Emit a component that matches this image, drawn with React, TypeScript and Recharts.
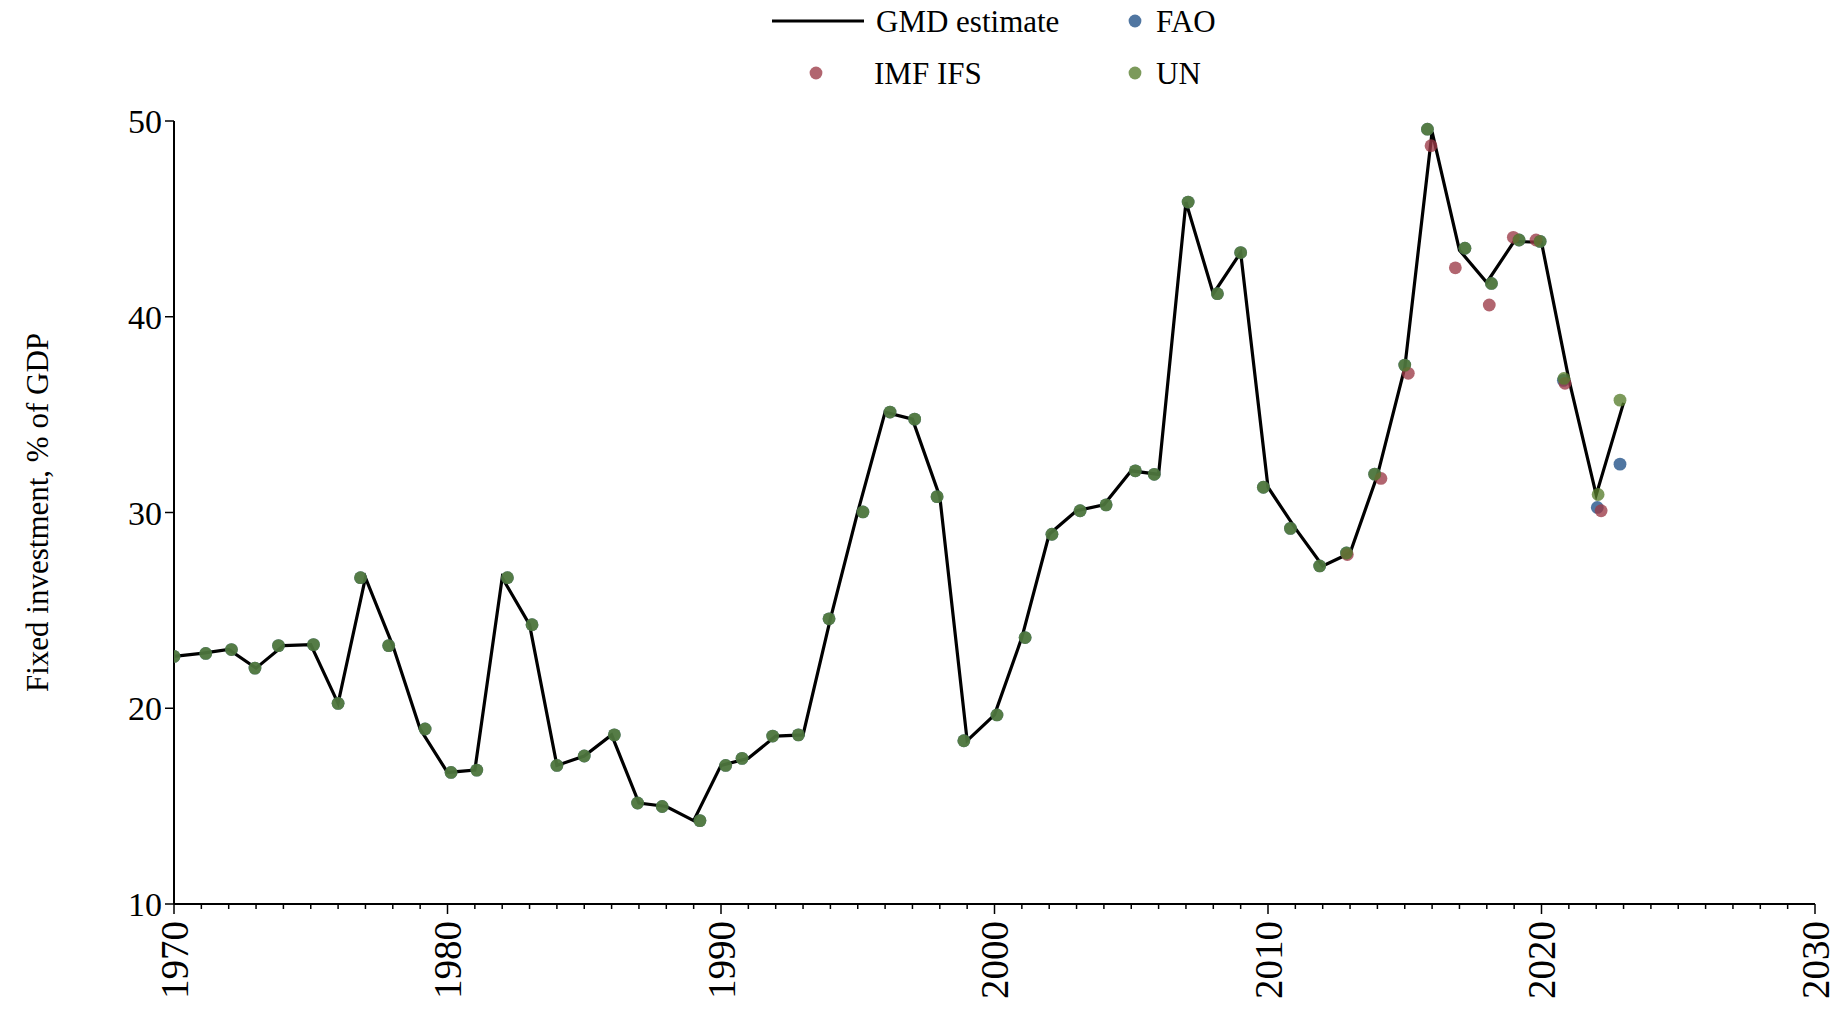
import React from 'react';
import { ComposedChart, Line, Scatter, XAxis, YAxis } from 'recharts';

const FONT = '"Liberation Serif", "Times New Roman", serif';

const years = [
  1970, 1971, 1972, 1973, 1974, 1975, 1976, 1977, 1978, 1979,
  1980, 1981, 1982, 1983, 1984, 1985, 1986, 1987, 1988, 1989,
  1990, 1991, 1992, 1993, 1994, 1995, 1996, 1997, 1998, 1999,
  2000, 2001, 2002, 2003, 2004, 2005, 2006, 2007, 2008, 2009,
  2010, 2011, 2012, 2013, 2014, 2015, 2016, 2017, 2018, 2019,
  2020, 2021, 2022, 2023,
];

const gmdEstimate = [
  22.65, 22.8, 23.0, 22.05, 23.2, 23.25, 20.25, 26.67, 23.2, 18.94,
  16.72, 16.84, 26.67, 24.27, 17.08, 17.56, 18.64, 15.16, 14.98, 14.26,
  17.08, 17.44, 18.58, 18.64, 24.57, 30.03, 35.13, 34.77, 30.81, 18.34,
  19.66, 23.61, 28.89, 30.09, 30.39, 32.13, 31.95, 45.86, 41.18, 43.28,
  31.29, 29.19, 27.27, 27.93, 31.9, 37.4, 49.45, 43.4, 41.75, 43.85,
  43.8, 36.8, 30.9, 35.6,
];

// observed (slightly jittered) horizontal positions of the UN / FAO dots
const unYears = [
  1970.0, 1971.16, 1972.1, 1972.96, 1973.82, 1975.1, 1976.0, 1976.82, 1977.85, 1979.18,
  1980.13, 1981.07, 1982.19, 1983.09, 1984.0, 1985.0, 1986.1, 1986.95, 1987.85, 1989.23,
  1990.17, 1990.77, 1991.89, 1992.83, 1993.95, 1995.19, 1996.18, 1997.08, 1997.9, 1998.88,
  2000.09, 2001.12, 2002.1, 2003.13, 2004.08, 2005.15, 2005.84, 2007.08, 2008.15, 2009.0,
  2009.83, 2010.82, 2011.89, 2012.87, 2013.9, 2015.0, 2015.83, 2017.2, 2018.17, 2019.18,
  2019.95, 2020.82, 2022.07, 2022.87,
];
const unValues = [
  22.65, 22.8, 23.0, 22.05, 23.2, 23.25, 20.25, 26.67, 23.2, 18.94,
  16.72, 16.84, 26.67, 24.27, 17.08, 17.56, 18.64, 15.16, 14.98, 14.26,
  17.08, 17.44, 18.58, 18.64, 24.57, 30.03, 35.13, 34.77, 30.81, 18.34,
  19.66, 23.61, 28.89, 30.09, 30.39, 32.13, 31.95, 45.86, 41.18, 43.28,
  31.29, 29.19, 27.27, 27.93, 31.96, 37.53, 49.58, 43.5, 41.7, 43.92,
  43.85, 36.85, 30.92, 35.74,
];

const faoYears = [
  1970.0, 1971.16, 1972.1, 1972.96, 1973.82, 1975.1, 1976.0, 1976.82, 1977.85, 1979.18,
  1980.13, 1981.07, 1982.19, 1983.09, 1984.0, 1985.0, 1986.1, 1986.95, 1987.85, 1989.23,
  1990.17, 1990.77, 1991.89, 1992.83, 1993.95, 1995.19, 1996.18, 1997.08, 1997.9, 1998.88,
  2000.09, 2001.12, 2002.1, 2003.13, 2004.08, 2005.15, 2005.84, 2007.08, 2008.15, 2009.0,
  2009.83, 2010.82, 2011.89, 2012.87, 2013.9, 2015.0, 2015.83, 2017.2, 2018.17, 2019.18,
  2019.95, 2020.8, 2022.04, 2022.87,
];
const faoValues = [
  22.65, 22.8, 23.0, 22.05, 23.2, 23.25, 20.25, 26.67, 23.2, 18.94,
  16.72, 16.84, 26.67, 24.27, 17.08, 17.56, 18.64, 15.16, 14.98, 14.26,
  17.08, 17.44, 18.58, 18.64, 24.57, 30.03, 35.13, 34.77, 30.81, 18.34,
  19.66, 23.61, 28.89, 30.09, 30.39, 32.13, 31.95, 45.86, 41.18, 43.28,
  31.29, 29.19, 27.27, 27.93, 31.96, 37.53, 49.58, 43.5, 41.7, 43.92,
  43.85, 36.75, 30.26, 32.47,
];

const imfYears = [2012.9, 2014.13, 2015.13, 2015.96, 2016.85, 2018.09, 2018.97, 2019.8, 2020.86, 2022.18];
const imfValues = [27.85, 31.74, 37.11, 48.74, 42.5, 40.6, 44.06, 43.92, 36.6, 30.09];

const xMajorTicks = [1970, 1980, 1990, 2000, 2010, 2020, 2030];
const xAllTicks = Array.from({ length: 61 }, (_, i) => 1970 + i);
const yTicks = [10, 20, 30, 40, 50];

const gmdData = years.map((x, i) => ({ x, y: gmdEstimate[i] }));
const unData = unYears.map((x, i) => ({ x, y: unValues[i] }));
const faoData = faoYears.map((x, i) => ({ x, y: faoValues[i] }));
const imfData = imfYears.map((x, i) => ({ x, y: imfValues[i] }));

const DOT_R = 6.4;
const DOT_OPACITY = 0.78;
const FAO_COLOR = '#1f4f86';
const UN_COLOR = '#577e2d';
const IMF_COLOR = '#9b3a47';

const makeDot = (color: string) => (props: any) => {
  const { cx, cy } = props;
  if (cx == null || cy == null) return <g />;
  return <circle cx={cx} cy={cy} r={DOT_R} fill={color} fillOpacity={DOT_OPACITY} stroke="none" />;
};

const XTick = (props: any) => {
  const { x, y, payload } = props;
  const v = payload.value;
  const major = xMajorTicks.includes(v);
  return (
    <g>
      <line x1={x} x2={x} y1={y} y2={y + (major ? 10 : 5)} stroke="#000" strokeWidth={1.5} />
      {major && (
        <text
          transform={`translate(${x},${y + 17}) rotate(-90)`}
          textAnchor="end"
          dominantBaseline="central"
          fontSize={39}
          fontFamily={FONT}
          fill="#000"
        >
          {v}
        </text>
      )}
    </g>
  );
};

const YLabel = (props: any) => {
  const { viewBox } = props;
  const cy = viewBox.y + viewBox.height / 2;
  return (
    <text
      transform={`translate(37,${cy}) rotate(-90)`}
      textAnchor="middle"
      dominantBaseline="central"
      fontSize={31}
      fontFamily={FONT}
      fill="#000"
    >
      Fixed investment, % of GDP
    </text>
  );
};

const Legend = () => (
  <svg width={1840} height={100} style={{ position: 'absolute', left: 0, top: 0 }}>
    <line x1={772} x2={864} y1={21} y2={21} stroke="#000" strokeWidth={3.2} />
    <text x={876} y={21} dominantBaseline="central" fontSize={31} fontFamily={FONT} fill="#000">GMD estimate</text>
    <circle cx={1135} cy={21} r={DOT_R} fill={FAO_COLOR} fillOpacity={DOT_OPACITY} />
    <text x={1156} y={21} dominantBaseline="central" fontSize={31} fontFamily={FONT} fill="#000">FAO</text>
    <circle cx={816} cy={73} r={DOT_R} fill={IMF_COLOR} fillOpacity={DOT_OPACITY} />
    <text x={874} y={73} dominantBaseline="central" fontSize={31} fontFamily={FONT} fill="#000">IMF IFS</text>
    <circle cx={1135} cy={73} r={DOT_R} fill={UN_COLOR} fillOpacity={DOT_OPACITY} />
    <text x={1156} y={73} dominantBaseline="central" fontSize={31} fontFamily={FONT} fill="#000">UN</text>
  </svg>
);

export default function App() {
  return (
    <div style={{ position: 'absolute', left: 0, top: 0, width: 1840, height: 1010, background: '#fff' }}>
      <ComposedChart
        width={1840}
        height={1010}
        margin={{ top: 121, right: 25, bottom: 0, left: 0 }}
      >
        <XAxis
          type="number"
          dataKey="x"
          domain={[1970, 2030]}
          ticks={xAllTicks}
          interval={0}
          allowDataOverflow
          height={106}
          tickSize={0}
          tickMargin={0}
          tickLine={false}
          tick={<XTick />}
          axisLine={{ stroke: '#000', strokeWidth: 2 }}
        />
        <YAxis
          type="number"
          domain={[10, 50]}
          ticks={yTicks}
          interval={0}
          allowDataOverflow
          width={174}
          tickSize={9}
          tickMargin={3}
          tickLine={{ stroke: '#000', strokeWidth: 1.5 }}
          axisLine={{ stroke: '#000', strokeWidth: 2 }}
          tick={{ fill: '#000', fontSize: 34, fontFamily: FONT }}
          label={<YLabel />}
        />
        <Line
          data={gmdData}
          dataKey="y"
          type="linear"
          stroke="#000"
          strokeWidth={3.2}
          dot={false}
          activeDot={false}
          isAnimationActive={false}
        />
        <Scatter data={faoData} dataKey="y" shape={makeDot(FAO_COLOR)} isAnimationActive={false} />
        <Scatter data={imfData} dataKey="y" shape={makeDot(IMF_COLOR)} isAnimationActive={false} />
        <Scatter data={unData} dataKey="y" shape={makeDot(UN_COLOR)} isAnimationActive={false} />
      </ComposedChart>
      <Legend />
    </div>
  );
}
